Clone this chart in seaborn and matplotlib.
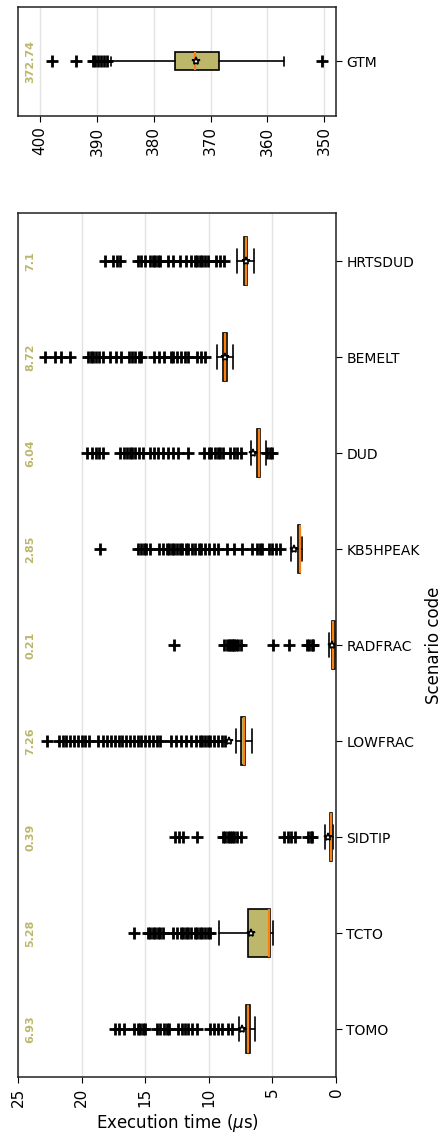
import matplotlib
matplotlib.use("Agg")
import matplotlib.pyplot as plt
import seaborn as sns

# scenario order from bottom (position 1) to top
scenarios = ["TOMO", "TCTO", "SIDTIP", "LOWFRAC", "RADFRAC",
             "KB5HPEAK", "DUD", "BEMELT", "HRTSDUD"]
medians = [6.93, 5.28, 0.39, 7.26, 0.21, 2.85, 6.04, 8.72, 7.1]
q1s = [6.8, 5.19, 0.3, 7.15, 0.1, 2.8, 5.95, 8.6, 7.0]
q3s = [7.05, 6.94, 0.45, 7.45, 0.3, 3.0, 6.2, 8.85, 7.25]
whislos = [6.4, 4.98, 0.24, 6.6, 0.0, 2.65, 5.5, 8.1, 6.45]
whishis = [7.6, 9.2, 0.86, 7.9, 0.55, 3.55, 6.7, 9.35, 7.75]
means = [7.4, 6.7, 0.6, 8.4, 0.3, 3.3, 6.5, 8.7, 7.1]

fliers_tomo = [17.4, 17.1, 16.7, 15.9, 15.6, 15.4, 15.2, 15.0, 14.1, 13.8, 13.5,
               13.3, 13.1, 12.4, 12.1, 11.9, 11.6, 11.3, 10.9, 9.9, 9.6, 9.3,
               9.0, 8.5, 8.2]
fliers_tcto = [15.9, 14.8, 14.6, 14.4, 14.2, 14.0, 13.8, 13.6, 12.8, 12.5, 12.2,
               12.0, 11.8, 11.6, 11.4, 11.1, 10.9, 10.7, 10.5, 10.3, 10.1, 9.9]
fliers_sidtip = [12.65, 12.35, 12.0, 10.9, 8.9, 8.7, 8.5, 8.3, 8.2, 8.0, 7.8,
                 7.5, 4.1, 3.8, 3.5, 3.2, 2.2, 2.0, 1.9]
fliers_lowfrac = [22.7, 21.8, 21.5, 21.2, 20.9, 20.6, 20.3, 20.0, 19.7, 19.4,
                  18.7, 18.3, 18.0, 17.7, 17.4, 17.1, 16.8, 16.5, 16.2, 15.9,
                  15.6, 15.3, 15.0, 14.7, 14.4, 14.1, 13.8, 13.0, 12.6, 12.2,
                  11.8, 11.4, 11.0, 10.7, 10.5, 10.3, 10.1, 9.9, 9.6, 9.3, 9.0,
                  8.7]
fliers_radfrac = [12.74, 8.8, 8.6, 8.4, 8.3, 8.2, 8.1, 8.0, 7.9, 7.7, 7.5,
                  4.95, 3.7, 2.3, 2.1, 1.9, 1.8]
fliers_kb5hpeak = [18.55, 15.6, 15.3, 15.1, 14.9, 14.6, 13.9, 13.6, 13.3, 13.1,
                   12.9, 12.7, 12.5, 12.3, 12.1, 11.8, 11.6, 11.3, 11.1, 10.8,
                   10.6, 10.3, 10.0, 9.6, 9.3, 8.6, 8.0, 7.4, 6.6, 6.2, 6.0,
                   5.8, 5.3, 5.0, 4.7, 4.4]
fliers_dud = [19.6, 19.2, 18.9, 18.6, 18.3, 17.0, 16.7, 16.4, 16.2, 16.0, 15.8,
              15.5, 15.2, 14.6, 14.3, 14.0, 13.6, 13.2, 12.8, 12.4, 11.6, 10.4,
              10.0, 9.8, 9.5, 9.3, 9.1, 8.9, 8.3, 8.0, 7.8, 7.5, 5.4, 5.2, 5.0]
fliers_bemelt = [22.9, 22.1, 21.6, 20.9, 19.5, 19.3, 19.1, 18.9, 18.6, 18.3,
                 17.8, 17.3, 16.9, 16.3, 16.0, 15.8, 15.5, 15.3, 14.3, 13.9,
                 13.5, 13.0, 12.8, 12.5, 12.2, 11.9, 11.6, 10.9, 10.6, 10.3]
fliers_hrtsdud = [18.2, 17.5, 17.2, 17.0, 15.6, 15.3, 15.0, 14.6, 14.4, 14.2,
                  14.0, 13.8, 13.2, 12.8, 12.3, 11.8, 11.4, 11.1, 10.9, 10.7,
                  10.5, 10.3, 10.1, 9.4, 9.1, 8.8]
fliers = [fliers_tomo, fliers_tcto, fliers_sidtip, fliers_lowfrac, fliers_radfrac,
          fliers_kb5hpeak, fliers_dud, fliers_bemelt, fliers_hrtsdud]

# separate GTM scenario
gtm_label = "GTM"
gtm_median = 372.74
gtm_q1 = 368.5
gtm_q3 = 376.2
gtm_whislo = 357.0
gtm_whishi = 387.6
gtm_mean = 372.6
gtm_fliers = [397.9, 393.7, 390.7, 390.3, 389.8, 389.3, 388.8, 388.3, 350.4]

sns.set_style("white")
plt.rcParams["font.family"] = ["DejaVu Sans"]
plt.rcParams["text.color"] = "black"
plt.rcParams["axes.labelcolor"] = "black"
plt.rcParams["xtick.color"] = "black"
plt.rcParams["ytick.color"] = "black"

box_color = "#bdb76b"
box_kw = dict(
    patch_artist=True,
    showmeans=True,
    orientation="horizontal",
    boxprops=dict(facecolor=box_color, edgecolor="black", linewidth=1.2),
    medianprops=dict(color="#ff7f0e", linewidth=1.6),
    whiskerprops=dict(color="black", linewidth=1.2),
    capprops=dict(color="black", linewidth=1.2),
    meanprops=dict(marker="*", markerfacecolor="white", markeredgecolor="black",
                   markersize=6, markeredgewidth=1.2),
    flierprops=dict(marker="+", markeredgecolor="black", markersize=8,
                    markeredgewidth=2),
)


def style_axes(ax):
    ax.grid(axis="x", color="#e3e3e3", linewidth=1)
    ax.set_axisbelow(True)
    ax.yaxis.tick_right()
    ax.yaxis.set_label_position("right")
    ax.tick_params(axis="x", labelrotation=90, labelsize=11, length=4,
                   direction="out", bottom=True)
    ax.tick_params(axis="y", labelsize=10, length=4, direction="out", right=True)
    for s in ax.spines.values():
        s.set_color("#222222")
        s.set_linewidth(1.1)


fig = plt.figure(figsize=(4.46, 11.38), dpi=100)
ax_top = fig.add_axes([0.0404, 0.8981, 0.7130, 0.0958])
ax = fig.add_axes([0.0404, 0.0536, 0.7130, 0.7592])

# GTM panel
gtm_stats = [dict(med=gtm_median, q1=gtm_q1, q3=gtm_q3, whislo=gtm_whislo,
                  whishi=gtm_whishi, mean=gtm_mean, fliers=gtm_fliers)]
ax_top.bxp(gtm_stats, positions=[1], widths=0.165, **box_kw)
ax_top.set_xlim(403.9, 347.9)
ax_top.set_xticks([400, 390, 380, 370, 360, 350])
ax_top.set_ylim(0.5, 1.5)
ax_top.set_yticks([1])
ax_top.set_yticklabels([gtm_label])
style_axes(ax_top)
ax_top.text(0.038, 1, f"{gtm_median:g}", transform=ax_top.get_yaxis_transform(),
            rotation=90, ha="center", va="center", color=box_color,
            fontweight="bold", fontsize=8)

# main panel
positions = list(range(1, len(scenarios) + 1))
stats = []
for i in range(len(scenarios)):
    stats.append(dict(med=medians[i], q1=q1s[i], q3=q3s[i], whislo=whislos[i],
                      whishi=whishis[i], mean=means[i], fliers=fliers[i]))
ax.bxp(stats, positions=positions, widths=0.5, **box_kw)
ax.set_xlim(25, 0)
ax.set_xticks([25, 20, 15, 10, 5, 0])
ax.set_ylim(0.5, len(scenarios) + 0.5)
ax.set_yticks(positions)
ax.set_yticklabels(scenarios)
style_axes(ax)
for p, m in zip(positions, medians):
    ax.text(0.038, p, f"{m:g}", transform=ax.get_yaxis_transform(),
            rotation=90, ha="center", va="center", color=box_color,
            fontweight="bold", fontsize=8)

ax.set_xlabel("Execution time ($\\mu$s)", fontsize=12)
ax.set_ylabel("Scenario code", fontsize=12)

fig.savefig("out.png", dpi=100)
